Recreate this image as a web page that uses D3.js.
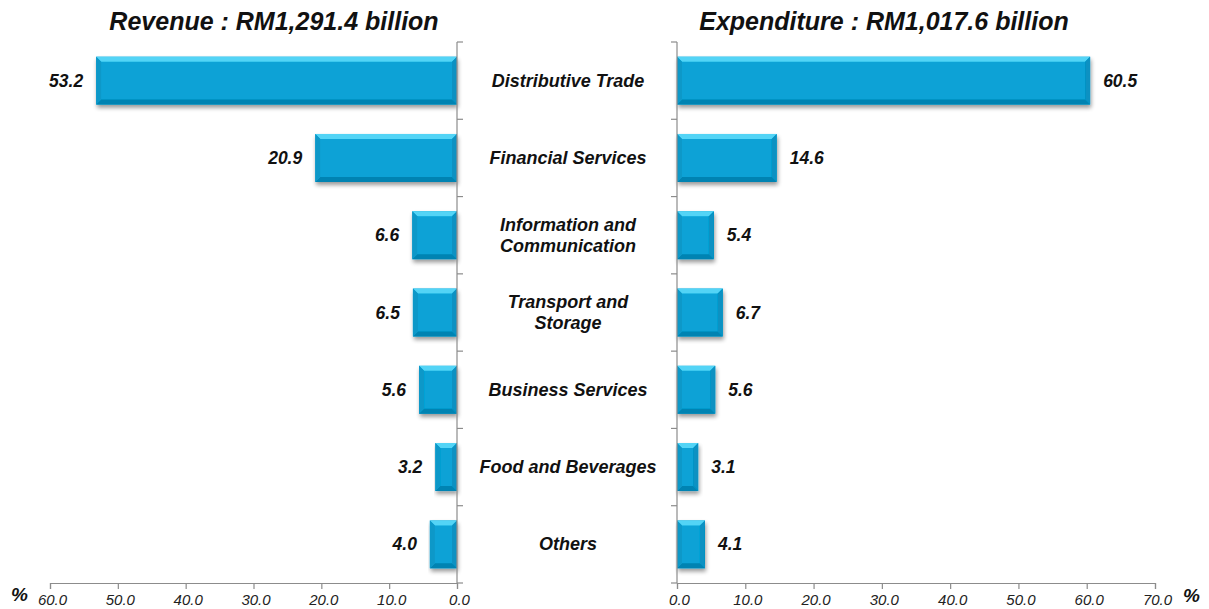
<!DOCTYPE html>
<html>
<head>
<meta charset="utf-8">
<script src="https://d3js.org/d3.v7.min.js"></script>
<style>
  body { margin: 0; background: #fff; }
  svg text { font-family: Arial, "Liberation Sans", sans-serif; font-style: italic; }
</style>
</head>
<body>
<div id="chart"></div>
<script>
// categories, top to bottom
const categories = [
  ["Distributive Trade"],
  ["Financial Services"],
  ["Information and", "Communication"],
  ["Transport and", "Storage"],
  ["Business Services"],
  ["Food and Beverages"],
  ["Others"]
];
const revenueShare = [53.2, 20.9, 6.6, 6.5, 5.6, 3.2, 4.0];
const expenditureShare = [60.5, 14.6, 5.4, 6.7, 5.6, 3.1, 4.1];
const revenueTicks = [60, 50, 40, 30, 20, 10, 0];
const expenditureTicks = [0, 10, 20, 30, 40, 50, 60, 70];
const revenueTitle = "Revenue : RM1,291.4 billion";
const expenditureTitle = "Expenditure : RM1,017.6 billion";

const W = 1209, H = 609;
const plotTop = 42, plotBottom = 583;

const svg = d3.select("#chart").append("svg")
  .attr("width", W).attr("height", H);

const defs = svg.append("defs");
const shadow = defs.append("filter").attr("id", "shadow")
  .attr("x", "-10%").attr("y", "-20%").attr("width", "130%").attr("height", "160%");
shadow.append("feGaussianBlur").attr("in", "SourceAlpha").attr("stdDeviation", 2);
shadow.append("feOffset").attr("dx", 1).attr("dy", 3).attr("result", "blur");
shadow.append("feComponentTransfer").append("feFuncA").attr("type", "linear").attr("slope", 0.4);
const merge = shadow.append("feMerge");
merge.append("feMergeNode");
merge.append("feMergeNode").attr("in", "SourceGraphic");

const idx = d3.range(categories.length);
const y = d3.scaleBand().domain(idx).range([plotTop, plotBottom]).paddingInner(0.38).paddingOuter(0.19);
const yEdge = d3.scaleLinear().domain([0, categories.length]).range([plotTop, plotBottom]);

const xLeft = d3.scaleLinear().domain([60, 0]).range([50, 457]);
const xRight = d3.scaleLinear().domain([0, 70]).range([677, 1155]);

// bevelled bar from x0 to x1
function bevelBar(g, x0, x1, yt, h) {
  const a = Math.min(x0, x1), b = Math.max(x0, x1);
  const bv = Math.min(5, (b - a) / 2);
  const grp = g.append("g").attr("filter", "url(#shadow)");
  grp.append("rect").attr("x", a).attr("y", yt).attr("width", b - a).attr("height", h).attr("fill", "#07a2d6");
  const yb = yt + h;
  grp.append("polygon").attr("points", [[a, yt], [b, yt], [b - bv, yt + bv], [a + bv, yt + bv]].join(" "))
    .attr("fill", "#52d4f6");
  grp.append("polygon").attr("points", [[a, yb], [b, yb], [b - bv, yb - bv], [a + bv, yb - bv]].join(" "))
    .attr("fill", "#0683b2");
  grp.append("polygon").attr("points", [[a, yt], [a + bv, yt + bv], [a + bv, yb - bv], [a, yb]].join(" "))
    .attr("fill", "#0a98c8");
  grp.append("polygon").attr("points", [[b, yt], [b - bv, yt + bv], [b - bv, yb - bv], [b, yb]].join(" "))
    .attr("fill", "#0791c2");
}

const axisColor = "#8c8c8c";

function drawPanel(scale, values, ticks, side) {
  const g = svg.append("g");
  const zero = scale(0);
  idx.forEach(i => bevelBar(g, zero, scale(values[i]), y(i), y.bandwidth()));

  // value labels
  g.selectAll(".val").data(idx).enter().append("text")
    .attr("x", i => side === "left" ? scale(values[i]) - 13 : scale(values[i]) + 13)
    .attr("y", i => y(i) + y.bandwidth() / 2 + 6)
    .attr("text-anchor", side === "left" ? "end" : "start")
    .attr("font-size", 17.5).attr("font-weight", "bold").attr("fill", "#111")
    .text(i => values[i].toFixed(1));

  // vertical category axis
  const dir = side === "left" ? 1 : -1;
  g.append("line").attr("x1", zero).attr("x2", zero).attr("y1", plotTop).attr("y2", plotBottom)
    .attr("stroke", axisColor).attr("stroke-width", 1.2);
  g.selectAll(".ctick").data(d3.range(categories.length + 1)).enter().append("line")
    .attr("x1", zero).attr("x2", zero + dir * 6)
    .attr("y1", d => yEdge(d)).attr("y2", d => yEdge(d))
    .attr("stroke", axisColor).attr("stroke-width", 1.2);

  // bottom value axis
  const axis = d3.axisBottom(scale).tickValues(ticks).tickSize(6).tickFormat(d => d.toFixed(1));
  const ax = g.append("g").attr("transform", `translate(0,${plotBottom})`).call(axis);
  ax.select(".domain").attr("stroke", axisColor).attr("stroke-width", 1.2);
  ax.selectAll(".tick line").attr("stroke", axisColor).attr("stroke-width", 1.2);
  ax.selectAll(".tick text").attr("font-size", 15).attr("fill", "#222")
    .attr("font-family", "Arial, 'Liberation Sans', sans-serif").attr("font-style", "italic")
    .attr("dy", null).attr("y", 22).attr("dx", 2);
}

drawPanel(xLeft, revenueShare, revenueTicks, "left");
drawPanel(xRight, expenditureShare, expenditureTicks, "right");

// category labels in the middle
const mid = 568;
const cat = svg.append("g");
idx.forEach(i => {
  const lines = categories[i];
  const cy = y(i) + y.bandwidth() / 2;
  const lh = 21;
  lines.forEach((t, k) => {
    cat.append("text")
      .attr("x", mid)
      .attr("y", cy + 6 + (k - (lines.length - 1) / 2) * lh)
      .attr("text-anchor", "middle")
      .attr("font-size", 18).attr("font-weight", "bold").attr("fill", "#111")
      .text(t);
  });
});

// titles
svg.append("text").attr("x", 274).attr("y", 30).attr("text-anchor", "middle")
  .attr("font-size", 25).attr("font-weight", "bold").attr("fill", "#111").text(revenueTitle);
svg.append("text").attr("x", 884).attr("y", 30).attr("text-anchor", "middle")
  .attr("font-size", 25).attr("font-weight", "bold").attr("fill", "#111").text(expenditureTitle);

// percent markers
svg.append("text").attr("x", 11).attr("y", 601).attr("font-size", 19).attr("font-weight", "bold")
  .attr("fill", "#111").text("%");
svg.append("text").attr("x", 1183).attr("y", 602).attr("font-size", 19).attr("font-weight", "bold")
  .attr("fill", "#111").text("%");
</script>
</body>
</html>
